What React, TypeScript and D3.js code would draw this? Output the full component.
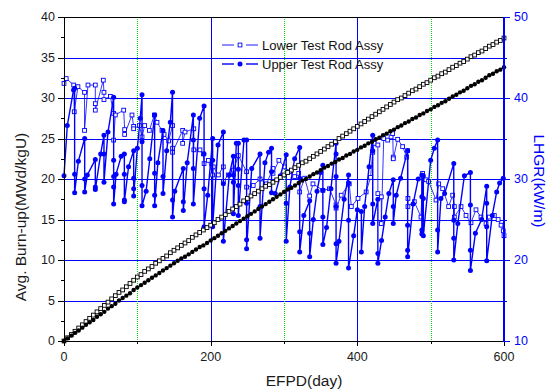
import React from 'react';
import * as d3 from 'd3';

// ---------- data ----------
const burnupDays = d3.range(0, 601, 5);

const lowerBurnup = [
  0, 0.4, 0.8, 1.2, 1.6, 2.0, 2.4, 2.8, 3.2, 3.6, 4.0,
  4.4, 4.8, 5.2, 5.6, 6.0, 6.3, 6.7, 7.1, 7.5, 7.9,
  8.2, 8.6, 8.9, 9.2, 9.6, 9.9, 10.2, 10.5, 10.9, 11.2,
  11.5, 11.8, 12.1, 12.4, 12.8, 13.1, 13.4, 13.7, 14.0, 14.3,
  14.6, 15.0, 15.3, 15.6, 16.0, 16.3, 16.6, 16.9, 17.3, 17.6,
  17.9, 18.2, 18.5, 18.8, 19.1, 19.3, 19.6, 19.9, 20.2, 20.5,
  20.8, 21.1, 21.4, 21.7, 22.0, 22.2, 22.5, 22.8, 23.1, 23.4,
  23.7, 24.0, 24.3, 24.6, 25.0, 25.3, 25.6, 25.9, 26.2, 26.5,
  26.8, 27.1, 27.4, 27.7, 28.0, 28.3, 28.6, 28.9, 29.2, 29.5,
  29.8, 30.0, 30.3, 30.6, 30.9, 31.1, 31.4, 31.7, 31.9, 32.2,
  32.5, 32.7, 33.0, 33.2, 33.5, 33.8, 34.0, 34.3, 34.5, 34.8,
  35.1, 35.3, 35.6, 35.8, 36.1, 36.4, 36.6, 36.9, 37.1, 37.4,
];

const upperBurnup = [
  0, 0.33, 0.66, 1.0, 1.3, 1.65, 2.0, 2.3, 2.6, 3.0, 3.3,
  3.6, 4.0, 4.3, 4.6, 5.0, 5.3, 5.6, 5.9, 6.3, 6.6,
  6.9, 7.2, 7.5, 7.8, 8.1, 8.4, 8.7, 9.0, 9.3, 9.6,
  9.9, 10.2, 10.4, 10.7, 11.0, 11.3, 11.6, 11.8, 12.1, 12.4,
  12.7, 13.0, 13.3, 13.6, 13.9, 14.2, 14.5, 14.8, 15.1, 15.4,
  15.7, 16.0, 16.3, 16.6, 16.9, 17.2, 17.5, 17.8, 18.1, 18.4,
  18.7, 18.9, 19.2, 19.5, 19.8, 20.0, 20.3, 20.6, 20.8, 21.1,
  21.4, 21.6, 21.9, 22.1, 22.4, 22.6, 22.9, 23.1, 23.4, 23.6,
  23.9, 24.1, 24.4, 24.6, 24.9, 25.1, 25.4, 25.6, 25.9, 26.1,
  26.4, 26.6, 26.9, 27.1, 27.4, 27.6, 27.9, 28.1, 28.4, 28.6,
  28.9, 29.1, 29.4, 29.6, 29.9, 30.2, 30.4, 30.7, 30.9, 31.2,
  31.5, 31.7, 32.0, 32.2, 32.5, 32.8, 33.0, 33.3, 33.5, 33.8,
];

// [EFPD, LHGR]
const lowerLHGR: [number, number][] = [
  [0, 41.8], [3, 42.4], [13.2, 41.6], [14, 38.3], [19, 41.4], [28, 40.7], [28, 36.0],
  [32.7, 41.6], [42.7, 41.6], [42.7, 39.3], [42.7, 38.5], [53.6, 42.2], [54.5, 40.7],
  [54.5, 39.8], [63.2, 40.2], [67.7, 38.1], [67.7, 34.8], [70, 37.9], [81.4, 38.5],
  [82.7, 36.1], [82.7, 35.5], [92.7, 37.9], [95, 36.5], [95, 36.2], [102.7, 36.6],
  [106.4, 35.2], [110, 36.6], [116.4, 36.0], [123.2, 37.9], [126.8, 37.0], [133.6, 36.0],
  [136.4, 35.5], [142.7, 34.7], [148, 36.6], [148, 33.8], [148, 33.3], [161.8, 36.0],
  [161.8, 34.4], [165, 35.8], [177, 36.2], [177, 33.6], [185.4, 33.6], [190, 33.1],
  [191, 31.9], [196.8, 32.3], [202.7, 30.5], [203.6, 31.5], [210.5, 30.5], [217.3, 31.5],
  [217.3, 29.7], [224, 30.5], [231, 31.1], [237.7, 32.9], [249, 30.9], [249, 29.0],
  [258, 29.2], [267.3, 30.0], [276, 29.4], [285, 31.3], [285, 30.7], [293, 32.3],
  [300.9, 31.5], [307.7, 30.9], [314.5, 30.3], [320, 30.7], [321.4, 28.4], [328.2, 30.1],
  [335, 27.9], [339.5, 29.4], [353, 28.6], [362, 28.8], [371, 26.8], [371, 26.4],
  [378, 28.0], [389, 29.4], [391.8, 26.6], [400.9, 27.6], [412, 28.4], [418, 30.2],
  [421, 33.3], [423, 34.4], [428, 34.2], [428, 28.2], [432.7, 27.8], [432.7, 24.5],
  [436, 35.0], [441.4, 34.8], [446, 35.2], [448.2, 35.6], [449, 32.7], [449, 32.5],
  [455, 34.9], [461.8, 34.0], [467.3, 32.7], [468.6, 33.5], [469, 27.6], [469, 26.6],
  [477.7, 27.2], [486.8, 25.3], [489, 30.7], [493.6, 29.9], [497.2, 29.7], [507.3, 27.4],
  [510.9, 29.4], [516.4, 28.8], [524.5, 26.6], [530, 28.0], [532.3, 26.6], [532.3, 25.3],
  [541.4, 26.6], [548.2, 25.5], [555, 24.6], [561.8, 26.2], [568.6, 25.3], [575.5, 24.5],
  [580, 25.3], [586.8, 25.5], [592, 25.0], [596, 24.3], [599, 23.6], [600, 23.0],
];

const upperLHGR: [number, number][] = [
  [0, 30.4], [4.5, 36.6], [13, 41.0], [14.5, 41.2], [14.5, 30.6], [14.5, 28.3],
  [19.6, 32.2], [28.2, 35.0], [28.2, 30.0], [28.2, 28.4],
  [31.8, 30.5], [42.7, 32.4], [42.7, 29.0], [42.7, 28.7],
  [50, 33.1], [54.5, 35.4], [54.5, 33.1], [54.5, 29.6],
  [60, 35.8], [67.7, 40.1], [67.7, 32.3], [67.7, 30.3], [67.7, 29.0], [67.7, 26.9],
  [71, 30.6], [78, 32.8], [82.3, 33.1], [82.3, 30.6], [82.3, 27.4], [82.3, 27.2],
  [88, 31.5], [95, 33.5], [95, 30.1], [95, 28.8], [95, 27.9],
  [100, 33.8], [104, 37.5], [106.4, 40.4], [106.4, 34.6], [106.4, 29.2], [106.4, 26.7],
  [112, 28.5], [117, 32.5], [123.6, 37.9], [123.6, 30.7], [123.6, 28.0], [123.6, 26.7],
  [128, 32.0], [135, 36.0], [135, 30.3], [135, 28.2],
  [140, 33.5], [145, 37.0], [148, 40.7], [148, 27.4], [148, 25.3],
  [151, 28.5], [162.7, 31.3], [162.7, 27.2], [162.7, 26.1],
  [168, 32.0], [176.4, 37.9], [176.4, 34.8], [176.4, 31.3], [176.4, 26.9],
  [185, 37.5], [191, 39.0], [191, 33.1], [191, 28.8], [191, 24.1],
  [196, 28.0], [202.7, 35.0], [202.7, 32.3], [202.7, 24.1],
  [210, 34.2], [217.3, 35.8], [217.3, 29.4], [217.3, 22.3],
  [225.4, 30.5], [231, 32.8], [231, 30.5], [231, 29.6], [231, 25.7],
  [235, 34.4], [237.7, 34.4], [237.7, 31.2], [237.7, 29.2], [237.7, 25.5],
  [245.4, 34.8], [249, 34.8], [249, 27.0], [249, 22.5], [249, 21.4],
  [256, 31.3], [267.3, 33.1], [267.3, 26.6], [267.3, 22.7],
  [274, 32.0], [279, 33.3], [283, 33.8], [283, 30.9], [283, 28.3],
  [288, 28.2], [295, 30.4], [303, 33.0], [303, 27.0], [303, 22.3],
  [308, 29.0], [314.5, 32.5], [321.4, 33.9], [321.4, 30.1], [321.4, 23.5], [321.4, 21.0],
  [327, 25.5], [335, 27.3], [335, 23.3], [335, 20.4],
  [340, 25.0], [345, 28.5], [350, 30.8], [353, 31.7], [353, 28.6], [353, 25.3], [353, 21.9],
  [358, 24.0], [364, 28.8], [371, 34.4], [371, 33.1], [371, 30.3], [371, 26.6], [371, 22.0], [371, 19.6],
  [375, 22.3], [382, 27.5], [388, 30.5], [388, 29.5], [388, 24.9], [388, 19.0],
  [395, 23.0], [400, 26.2], [405.5, 26.0], [405.5, 21.0],
  [410, 26.6], [416, 31.5], [421, 35.4], [421, 33.5], [421, 26.9], [421, 24.5],
  [428, 27.5], [428, 20.8], [428, 19.6],
  [433, 22.4], [438, 25.3], [443, 28.2], [449, 29.9], [449, 26.6], [449, 24.5],
  [453, 28.0], [459, 30.1], [468.6, 33.5], [468.6, 24.3], [468.6, 21.2], [468.6, 20.4],
  [476, 26.9], [483, 30.0], [488, 30.5], [488, 27.8], [488, 23.7], [488, 23.2],
  [490, 30.4], [490, 27.6], [490, 23.0],
  [500, 32.3], [505, 33.8], [509.5, 34.8], [509.5, 23.7], [509.5, 21.0],
  [514, 27.6], [519, 28.2], [531.5, 31.9], [531.5, 24.9], [531.5, 22.7], [531.5, 20.0],
  [537, 24.5], [546, 30.4], [554.2, 30.8], [554.2, 26.8], [554.2, 21.2], [554.2, 18.7],
  [561, 23.3], [569.5, 25.0], [576.4, 29.1], [576.4, 27.0], [576.4, 24.1], [576.4, 19.9],
  [584, 25.5], [590, 28.4], [594, 29.5], [599, 30.1],
];

const xMajorTicks = [0, 200, 400, 600];
const xMinorTicks = [100, 300, 500];
const leftMajorTicks = [0, 5, 10, 15, 20, 25, 30, 35, 40];
const leftMinorTicks = [2.5, 7.5, 12.5, 17.5, 22.5, 27.5, 32.5, 37.5];
const rightMajorTicks = [10, 20, 30, 40, 50];
const rightMinorTicks = [15, 25, 35, 45];
const hGrid = [5, 10, 15, 20, 25, 30, 35];
const vGridBlue = [200, 400];
const vGridGreen = [100, 300, 500];
const legendLabels = ['Lower Test Rod Assy', 'Upper Test Rod Assy'];

const BLUE = '#0000ff';
const FONT = '"Liberation Sans", Arial, Helvetica, sans-serif';

export default function App() {
  const W = 547, H = 390;
  const L = 64, R = 504, T = 17, B = 341;
  const x = d3.scaleLinear().domain([0, 600]).range([L, R]);
  const yL = d3.scaleLinear().domain([0, 40]).range([B, T]);
  const yR = d3.scaleLinear().domain([10, 50]).range([B, T]);
  const px = (v: number) => Math.round(v) + 0.5;

  const lhgrLine = d3.line<[number, number]>().x(d => x(d[0])).y(d => yR(d[1]));
  const burnLine = d3.line<number>().x((_, i) => x(burnupDays[i])).y(d => yL(d));

  const sq = 3.8;

  return (
    <svg width={W} height={H} style={{ position: 'absolute', left: 0, top: 0, background: '#fff' }} fontFamily={FONT}>
      <rect x={0} y={0} width={W} height={H} fill="#fff" />
      {/* grid */}
      <g shapeRendering="crispEdges">
        {hGrid.map(v => (
          <line key={'h' + v} x1={L} x2={R} y1={px(yL(v))} y2={px(yL(v))} stroke={BLUE} strokeWidth={1} />
        ))}
        {vGridBlue.map(v => (
          <line key={'vb' + v} x1={px(x(v))} x2={px(x(v))} y1={T} y2={B} stroke={BLUE} strokeWidth={1} />
        ))}
        {vGridGreen.map(v => (
          <line key={'vg' + v} x1={px(x(v))} x2={px(x(v))} y1={T} y2={B} stroke="#00e000" strokeWidth={1} strokeDasharray="1,1" />
        ))}
      </g>

      {/* LHGR series */}
      <path d={lhgrLine(lowerLHGR) || ''} fill="none" stroke={BLUE} strokeWidth={0.8} />
      {lowerLHGR.map((d, i) => (
        <rect key={'ls' + i} x={x(d[0]) - sq / 2} y={yR(d[1]) - sq / 2} width={sq} height={sq} fill="#fff" stroke={BLUE} strokeWidth={0.9} />
      ))}
      <path d={lhgrLine(upperLHGR) || ''} fill="none" stroke={BLUE} strokeWidth={1.4} />
      {upperLHGR.map((d, i) => (
        <circle key={'uc' + i} cx={x(d[0])} cy={yR(d[1])} r={2.5} fill={BLUE} />
      ))}

      {/* burn-up series */}
      <path d={burnLine(lowerBurnup) || ''} fill="none" stroke="#000" strokeWidth={0.8} />
      {lowerBurnup.map((v, i) => (
        <rect key={'lb' + i} x={x(burnupDays[i]) - sq / 2} y={yL(v) - sq / 2} width={sq} height={sq} fill="#fff" stroke="#000" strokeWidth={0.9} />
      ))}
      <path d={burnLine(upperBurnup) || ''} fill="none" stroke="#000" strokeWidth={0.8} />
      {upperBurnup.map((v, i) => (
        <circle key={'ub' + i} cx={x(burnupDays[i])} cy={yL(v)} r={2.2} fill="#000" />
      ))}

      {/* axes frame */}
      <g shapeRendering="crispEdges">
        <line x1={L} x2={R} y1={px(T)} y2={px(T)} stroke="#000" strokeWidth={1} />
        <line x1={L} x2={R} y1={px(B)} y2={px(B)} stroke="#000" strokeWidth={1} />
        <line x1={px(L)} x2={px(L)} y1={T} y2={B} stroke="#000" strokeWidth={1} />
        <line x1={R} x2={R} y1={T} y2={B + 1} stroke={BLUE} strokeWidth={2} />

        {leftMajorTicks.map(v => (
          <line key={'lt' + v} x1={L - 6} x2={L} y1={px(yL(v))} y2={px(yL(v))} stroke="#000" />
        ))}
        {leftMinorTicks.map(v => (
          <line key={'lm' + v} x1={L - 3} x2={L} y1={px(yL(v))} y2={px(yL(v))} stroke="#000" />
        ))}
        {xMajorTicks.map(v => (
          <line key={'bt' + v} x1={px(x(v))} x2={px(x(v))} y1={B} y2={B + 5} stroke="#000" />
        ))}
        {xMinorTicks.map(v => (
          <line key={'bm' + v} x1={px(x(v))} x2={px(x(v))} y1={B} y2={B + 3} stroke="#000" />
        ))}
        {rightMajorTicks.map(v => (
          <line key={'rt' + v} x1={R} x2={R + 6} y1={px(yR(v))} y2={px(yR(v))} stroke={BLUE} strokeWidth={1} />
        ))}
        {rightMinorTicks.map(v => (
          <line key={'rm' + v} x1={R} x2={R + 3} y1={px(yR(v))} y2={px(yR(v))} stroke={BLUE} />
        ))}
      </g>

      {/* tick labels */}
      {leftMajorTicks.map(v => (
        <text key={'ltl' + v} x={L - 9} y={yL(v)} dy="0.35em" textAnchor="end" fontSize={12.5} fill="#1a1a1a">{v}</text>
      ))}
      {xMajorTicks.map(v => (
        <text key={'btl' + v} x={x(v)} y={B + 20} textAnchor="middle" fontSize={12.5} fill="#1a1a1a">{v}</text>
      ))}
      {rightMajorTicks.map(v => (
        <text key={'rtl' + v} x={R + 10} y={yR(v)} dy="0.35em" textAnchor="start" fontSize={12.5} fill={BLUE}>{v}</text>
      ))}

      {/* titles */}
      <text x={304} y={386} textAnchor="middle" fontSize={15.5} fill="#1a1a1a">EFPD(day)</text>
      <text transform="translate(20,217) rotate(-90)" textAnchor="middle" dominantBaseline="central" fontSize={15.5} fill="#1a1a1a">
        Avg. Burn-up(MWd/kgU)
      </text>
      <text transform="translate(539,181) rotate(90)" textAnchor="middle" dominantBaseline="central" fontSize={15.5} fill={BLUE}>
        LHGR(kW/m)
      </text>

      {/* legend */}
      <g>
        <line x1={222} x2={234} y1={45} y2={45} stroke={BLUE} strokeWidth={0.9} />
        <line x1={246} x2={258} y1={45} y2={45} stroke={BLUE} strokeWidth={0.9} />
        <rect x={240 - sq / 2} y={45 - sq / 2} width={sq} height={sq} fill="#fff" stroke={BLUE} strokeWidth={0.9} />
        <text x={262} y={45} dy="0.35em" fontSize={13} fill="#111">{legendLabels[0]}</text>
        <line x1={222} x2={234} y1={64} y2={64} stroke={BLUE} strokeWidth={1.4} />
        <line x1={246} x2={258} y1={64} y2={64} stroke={BLUE} strokeWidth={1.4} />
        <circle cx={240} cy={64} r={2.5} fill={BLUE} />
        <text x={262} y={64} dy="0.35em" fontSize={13} fill="#111">{legendLabels[1]}</text>
      </g>
    </svg>
  );
}
